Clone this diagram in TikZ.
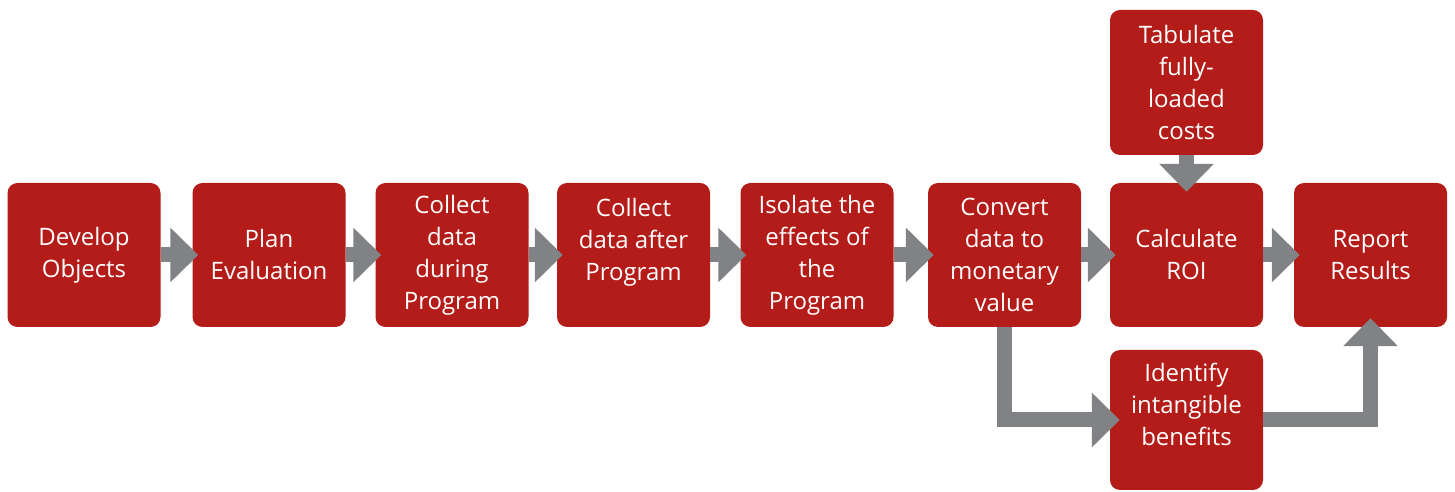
\documentclass[tikz,border=0pt]{standalone}
\usepackage{fontspec}
\setmainfont{Open Sans}
\usetikzlibrary{arrows.meta}
\definecolor{roired}{HTML}{B31C18}
\definecolor{roigray}{HTML}{808285}
\begin{document}
\begin{tikzpicture}[x=1pt,y=1pt,
	box/.style={fill=roired,rounded corners=10pt,minimum width=153pt,minimum height=144pt,
		text=white,align=center,inner sep=0pt,font=\fontsize{24}{32}\selectfont},
	arr/.style={roigray,line width=15pt,-{Triangle[width=53pt,length=28pt]},shorten >=-6pt}]
	\useasboundingbox (0,0) rectangle (1455,492);
	\node[box] (dev) at (84,237) {Develop\\Objects};
	\node[box] (plan) at (269,237) {Plan\\Evaluation};
	\node[box] (during) at (452,237) {Collect\\data\\during\\Program};
	\node[box] (after) at (633.5,237) {Collect\\data after\\Program\\\mbox{}};
	\node[box] (isol) at (817,237) {Isolate the\\effects of\\the\\Program};
	\node[box] (conv) at (1004.5,237) {Convert\\data to\\monetary\\value};
	\node[box] (calc) at (1186.5,237) {Calculate\\ROI};
	\node[box] (report) at (1370.5,237) {Report\\Results};
	\node[box,minimum height=145pt] (tab) at (1186.5,409.5) {Tabulate\\fully-\\loaded\\costs};
	\node[box,minimum height=140pt] (ident) at (1186.5,72) {Identify\\intangible\\benefits\\\mbox{}};
	\draw[arr] (dev) -- (plan);
	\draw[arr] (plan) -- (during);
	\draw[arr] (during) -- (after);
	\draw[arr] (after) -- (isol);
	\draw[arr] (isol) -- (conv);
	\draw[arr] (conv) -- (calc);
	\draw[arr] (calc) -- (report);
	\draw[arr,shorten >=-9pt] (tab) -- (calc);
	\draw[arr,shorten >=-10pt] (conv.south) |- (ident.west);
	\draw[arr,shorten >=-9pt] (ident.east) -| (report.south);
\end{tikzpicture}
\end{document}
